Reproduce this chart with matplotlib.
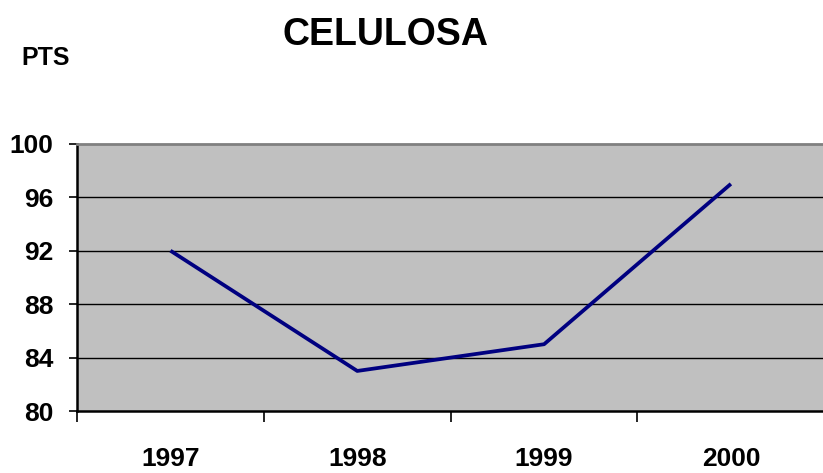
import matplotlib.pyplot as plt
import numpy as np

# chart data
years = ['1997', '1998', '1999', '2000']
pts = [92, 83, 85, 97]
y_ticks = [80, 84, 88, 92, 96, 100]

plt.rcParams['font.family'] = ['Liberation Sans', 'DejaVu Sans']
plt.rcParams['font.weight'] = 'bold'

fig = plt.figure(figsize=(8.23, 4.73), dpi=100)
ax = fig.add_axes([0.0936, 0.131, 0.908, 0.565])
ax.set_facecolor('#c0c0c0')

x = np.arange(len(years))
ax.plot(x, pts, color='#000080', linewidth=2.7, solid_capstyle='butt', zorder=3)

ax.set_xlim(-0.5, len(years) - 0.5)
ax.set_ylim(80, 100)

# horizontal gridlines
for v in y_ticks[1:-1]:
    ax.axhline(v, color='black', linewidth=1.0, zorder=2)

ax.set_yticks(y_ticks)
ax.set_yticklabels([str(v) for v in y_ticks], fontsize=19, fontweight='bold')
ax.tick_params(axis='y', direction='out', length=6, width=1.2, pad=11)

# x ticks between categories, labels centered
ax.set_xticks(np.arange(-0.5, len(years), 1.0))
ax.set_xticklabels([])
ax.tick_params(axis='x', which='major', direction='out', length=8, width=1.2)
ax.set_xticks(x, minor=True)
ax.set_xticklabels(years, minor=True, fontsize=19, fontweight='bold')
ax.tick_params(axis='x', which='minor', length=0, pad=26)

for s in ['left', 'bottom']:
    ax.spines[s].set_color('black')
    ax.spines[s].set_linewidth(1.8)
ax.spines['top'].set_color('#808080')
ax.spines['top'].set_linewidth(2)
ax.spines['right'].set_visible(False)

fig.text(0.468, 0.926, 'CELULOSA', ha='center', va='center', fontsize=27, fontweight='bold')
fig.text(0.056, 0.877, 'PTS', ha='center', va='center', fontsize=18, fontweight='bold')

fig.savefig('out.png', dpi=100)
